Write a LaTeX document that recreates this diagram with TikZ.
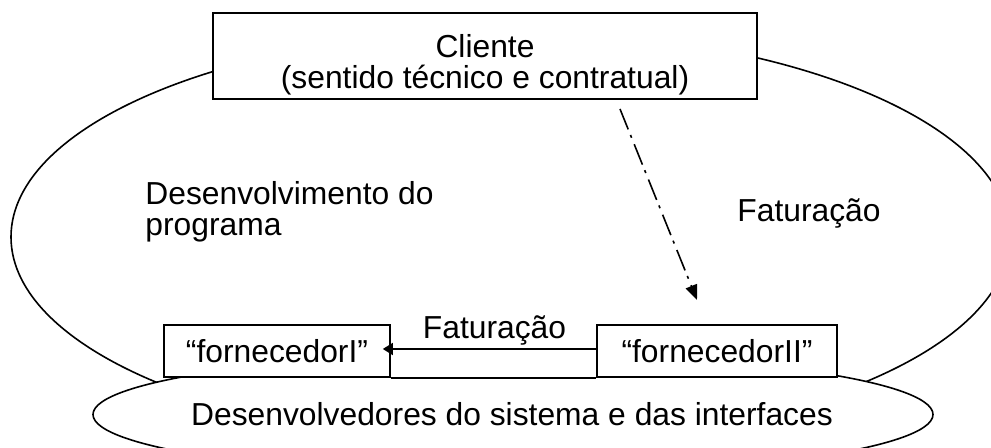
\documentclass[tikz,border=0pt]{standalone}
\usepackage{fontspec}
\setmainfont{Liberation Sans}
\usetikzlibrary{arrows.meta}
\begin{document}
\begin{tikzpicture}[x=0.5pt,y=-0.5pt,
  every node/.style={font=\fontsize{15.9}{19}\selectfont, inner sep=0pt},
  line/.style={line width=0.8pt},
  box/.style={draw, line width=0.8pt, fill=white, rectangle},
  dashdot/.style={line width=0.8pt, dash pattern=on 11pt off 3pt on 1.5pt off 3.5pt},
  ]
\useasboundingbox (0,0) rectangle (991,448);
\clip (0,0) rectangle (991,448);
% large ellipse
\draw[line] (510.5,237) ellipse [x radius=499.5, y radius=206];
% small ellipse
\draw[line, fill=white] (513,414.5) ellipse [x radius=420, y radius=61];
\fill[white] (391,335) rectangle (596,376);
\node (dev) at (512,414) {Desenvolvedores do sistema e das interfaces};
% client box
\node[box, minimum width=272pt, minimum height=43pt] (cli) at (485,56) {};
\node[anchor=base] (cli1) at (485,58) {Cliente};
\node[anchor=base] (cli2) at (485,89) {(sentido técnico e contratual)};
% supplier boxes
\node[box, minimum width=113pt, minimum height=26pt] (fI) at (277,351) {“fornecedorI”};
\node[box, minimum width=120pt, minimum height=26pt] (fII) at (717,351) {“fornecedorII”};
\draw[line] (fI.south east) -- (fII.south west);
\draw[line, -{Triangle[length=5pt,width=6pt]}, shorten >=-4pt] ([yshift=1pt]fII.west) -- ([yshift=1pt]fI.east);
\node[anchor=base] (fat2) at (494.5,339) {Faturação};
% labels
\node[anchor=base west] (fat1) at (737,222) {Faturação};
\node[anchor=base west] (dp1) at (145,205) {Desenvolvimento do};
\node[anchor=base west] (dp2) at (145,236) {programa};
% dash-dot arrow
\coordinate (a1) at (620,109);
\coordinate (a2) at (697,300);
\draw[dashdot, -{Triangle[length=7.5pt,width=6pt]}] (a1) -- (a2);
\end{tikzpicture}
\end{document}
